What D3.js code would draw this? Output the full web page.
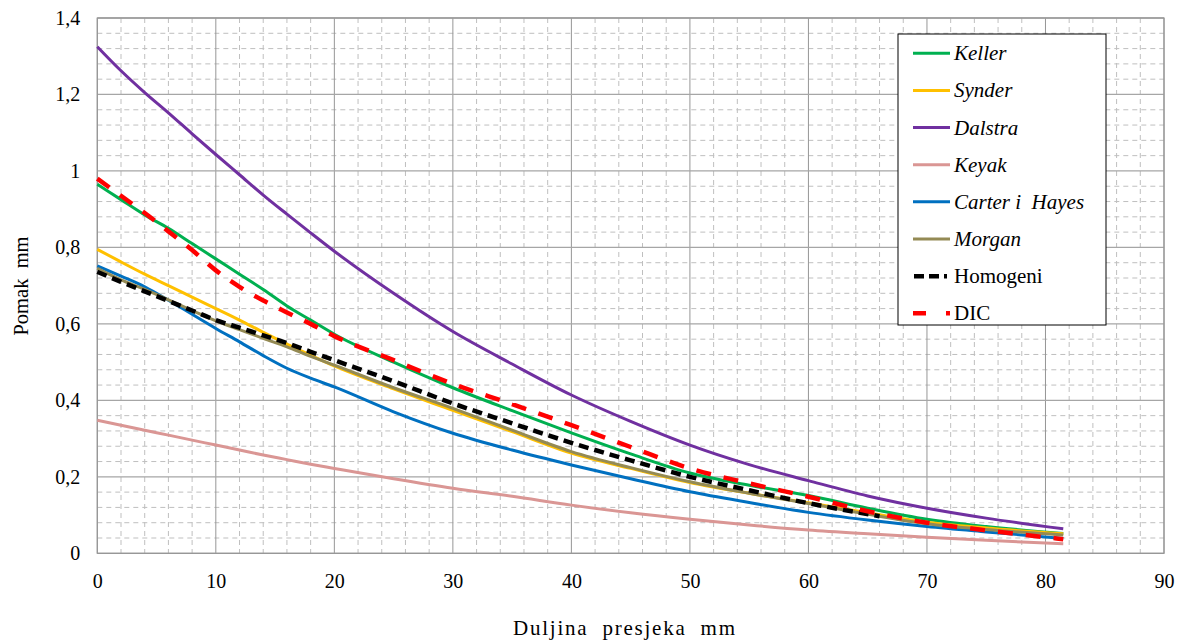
<!DOCTYPE html>
<html><head><meta charset="utf-8">
<script src="https://cdn.jsdelivr.net/npm/d3@7"></script>
<style>
body{margin:0;background:#fff;}
svg{display:block;}
</style></head>
<body><svg id="c" width="1180" height="641"></svg>
<script>
const xs = [0,2,4,6,8,10,12,14,16,18,20,25,30,35,40,45,50,55,60,65,70,75,81.5];
const keller  = [0.965,0.925,0.885,0.85,0.81,0.77,0.73,0.69,0.647,0.61,0.573,0.5,0.433,0.373,0.315,0.26,0.21,0.178,0.151,0.118,0.089,0.07,0.052];
const synder  = [0.795,0.762,0.73,0.7,0.67,0.64,0.61,0.578,0.547,0.518,0.49,0.43,0.374,0.318,0.262,0.222,0.185,0.157,0.132,0.106,0.081,0.066,0.051];
const dalstra = [1.325,1.262,1.205,1.152,1.097,1.043,0.99,0.937,0.887,0.838,0.79,0.68,0.58,0.495,0.414,0.345,0.283,0.232,0.19,0.15,0.118,0.092,0.064];
const keyak   = [0.348,0.335,0.322,0.309,0.296,0.283,0.27,0.257,0.245,0.233,0.222,0.195,0.17,0.149,0.126,0.106,0.089,0.074,0.061,0.051,0.042,0.034,0.025];
const carter  = [0.752,0.725,0.697,0.662,0.625,0.588,0.553,0.517,0.484,0.458,0.435,0.37,0.314,0.27,0.231,0.195,0.161,0.133,0.107,0.087,0.07,0.056,0.039];
const morgan  = [0.745,0.715,0.69,0.663,0.635,0.608,0.585,0.562,0.54,0.515,0.492,0.433,0.379,0.322,0.266,0.224,0.187,0.157,0.13,0.102,0.077,0.062,0.048];
const homogeniX = [0,2,4,6,8,10,12,14,16,18,20,25,30,35,40,45,50,55,60,66];
const homogeni  = [0.736,0.71,0.685,0.66,0.635,0.61,0.59,0.57,0.55,0.527,0.505,0.45,0.392,0.34,0.289,0.243,0.2,0.165,0.131,0.097];
const dic     = [0.98,0.935,0.89,0.842,0.793,0.74,0.697,0.661,0.63,0.6,0.568,0.505,0.443,0.39,0.335,0.278,0.222,0.183,0.148,0.11,0.08,0.06,0.037];
const xTicks = [0,10,20,30,40,50,60,70,80,90];
const yTicks = [0,0.2,0.4,0.6,0.8,1,1.2,1.4];
const seriesNames = ["Keller","Synder","Dalstra","Keyak","Carter i  Hayes","Morgan","Homogeni","DIC"];
const seriesColors = ["#00B050","#FFC000","#7030A0","#DA9694","#0070C0","#948A54","#000000","#FF0000"];
const xTitle = "Duljina  presjeka  mm";
const yTitle = "Pomak  mm";

const series = [
  {name:seriesNames[0], x:xs, y:keller,  color:seriesColors[0], w:3, dash:null, italic:true},
  {name:seriesNames[1], x:xs, y:synder,  color:seriesColors[1], w:3, dash:null, italic:true},
  {name:seriesNames[2], x:xs, y:dalstra, color:seriesColors[2], w:3, dash:null, italic:true},
  {name:seriesNames[3], x:xs, y:keyak,   color:seriesColors[3], w:3, dash:null, italic:true},
  {name:seriesNames[4], x:xs, y:carter,  color:seriesColors[4], w:3, dash:null, italic:true},
  {name:seriesNames[5], x:xs, y:morgan,  color:seriesColors[5], w:3, dash:null, italic:true},
  {name:seriesNames[6], x:homogeniX, y:homogeni, color:seriesColors[6], w:4.5, dash:"10,6", italic:false},
  {name:seriesNames[7], x:xs, y:dic,     color:seriesColors[7], w:4.5, dash:"15,13", italic:false}
];

const FONT = "'Liberation Serif','Times New Roman',serif";
const svg = d3.select("#c");
const L=97.3, R=1164, T=18, B=553.3;
const x = d3.scaleLinear().domain([0,90]).range([L,R]);
const y = d3.scaleLinear().domain([0,1.4]).range([B,T]);

const g = svg.append("g");
const xMinor = d3.range(0,90.001,2).filter(v=>v%10!==0);
const yMinor = d3.range(0,1.4001,0.04).filter(v=>Math.abs(v/0.2-Math.round(v/0.2))>1e-6);
g.selectAll(".xm").data(xMinor).join("line")
  .attr("x1",d=>x(d)).attr("x2",d=>x(d)).attr("y1",T).attr("y2",B)
  .attr("stroke","#bfbfbf").attr("stroke-width",1).attr("stroke-dasharray","5,4");
g.selectAll(".ym").data(yMinor).join("line")
  .attr("x1",L).attr("x2",R).attr("y1",d=>y(d)).attr("y2",d=>y(d))
  .attr("stroke","#bfbfbf").attr("stroke-width",1).attr("stroke-dasharray","5,4");
g.selectAll(".xM").data(xTicks).join("line")
  .attr("x1",d=>x(d)).attr("x2",d=>x(d)).attr("y1",T).attr("y2",B)
  .attr("stroke","#969696").attr("stroke-width",1);
g.selectAll(".yM").data(yTicks).join("line")
  .attr("x1",L).attr("x2",R).attr("y1",d=>y(d)).attr("y2",d=>y(d))
  .attr("stroke","#a6a6a6").attr("stroke-width",1.3);
g.append("rect").attr("x",L).attr("y",T).attr("width",R-L).attr("height",B-T)
  .attr("fill","none").attr("stroke","#969696").attr("stroke-width",1.2);

const fmt = v => String(+v.toFixed(1)).replace(".",",");
const xAxis = d3.axisBottom(x).tickValues(xTicks).tickSize(0).tickPadding(21).tickFormat(d=>d);
const xa = svg.append("g").attr("transform",`translate(0,${B})`).call(xAxis);
xa.select(".domain").remove();
xa.selectAll("text").style("font-family",FONT).style("font-size","20px").attr("fill","#000");
const yAxis = d3.axisLeft(y).tickValues(yTicks).tickSize(0).tickPadding(17).tickFormat(fmt);
const ya = svg.append("g").attr("transform",`translate(${L},0)`).call(yAxis);
ya.select(".domain").remove();
ya.selectAll("text").style("font-family",FONT).style("font-size","20px").attr("fill","#000");

svg.append("text").attr("x",513).attr("y",635)
  .attr("textLength",222).attr("lengthAdjust","spacing")
  .style("font-family",FONT).style("font-size","21px")
  .text(xTitle.replace(/ /g,"\u00A0"));
svg.append("text").attr("transform","translate(28,286) rotate(-90)").attr("text-anchor","middle")
  .style("font-family",FONT).style("font-size","20.5px")
  .text(yTitle.replace(/ /g,"\u00A0"));

const line = d3.line().x(d=>x(d[0])).y(d=>y(d[1])).curve(d3.curveMonotoneX);
const lg = svg.append("g");
series.forEach(s=>{
  const pts = s.x.map((v,i)=>[v,s.y[i]]);
  lg.append("path").attr("d",line(pts)).attr("fill","none")
    .attr("stroke",s.color).attr("stroke-width",s.w)
    .attr("stroke-dasharray",s.dash).attr("stroke-linejoin","round");
});

const leg = svg.append("g");
leg.append("rect").attr("x",898).attr("y",34).attr("width",208).attr("height",291)
  .attr("fill","#fff").attr("stroke","#000").attr("stroke-width",1);
series.forEach((s,i)=>{
  const cy = 53.3 + i*37.14;
  const ln = leg.append("line").attr("x1",913).attr("x2",950).attr("y1",cy).attr("y2",cy)
    .attr("stroke",s.color).attr("stroke-width",s.w);
  if(s.name==="Homogeni") ln.attr("stroke-dasharray","10,5,10,5,3").attr("x1",914);
  if(s.name==="DIC") ln.attr("stroke-dasharray","13,20,5");
  leg.append("text").attr("x",954).attr("y",cy+7)
    .style("font-family",FONT).style("font-size","21px")
    .style("font-style",s.italic?"italic":"normal")
    .text(s.name.replace(/ /g,"\u00A0"));
});
</script></body></html>
